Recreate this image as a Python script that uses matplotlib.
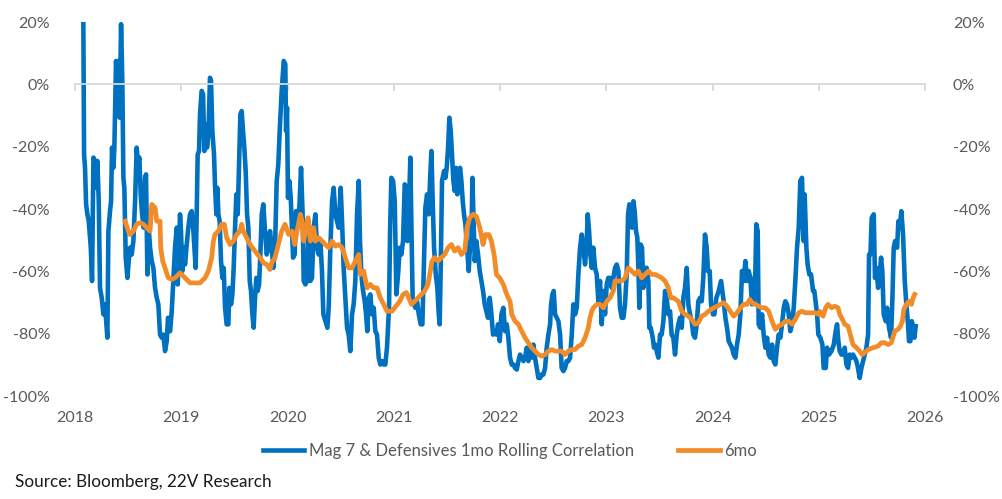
import numpy as np
import matplotlib
matplotlib.use("Agg")
import matplotlib.pyplot as plt
from matplotlib.ticker import FuncFormatter

plt.rcParams['font.family'] = ['Lato', 'DejaVu Sans']

# 1mo rolling correlation (decimal year, %)
t_1mo = [
    2018.078, 2018.085, 2018.094, 2018.104, 2018.116, 2018.129, 2018.148, 2018.160, 2018.173, 2018.188,
    2018.198, 2018.210, 2018.223, 2018.235, 2018.251, 2018.267, 2018.282, 2018.304, 2018.314, 2018.329,
    2018.339, 2018.348, 2018.361, 2018.370, 2018.386, 2018.398, 2018.411, 2018.420, 2018.433, 2018.445,
    2018.455, 2018.464, 2018.477, 2018.493, 2018.505, 2018.518, 2018.533, 2018.549, 2018.565, 2018.580,
    2018.593, 2018.605, 2018.618, 2018.631, 2018.646, 2018.659, 2018.668, 2018.681, 2018.693, 2018.706,
    2018.722, 2018.737, 2018.753, 2018.769, 2018.784, 2018.800, 2018.816, 2018.831, 2018.847, 2018.863,
    2018.875, 2018.894, 2018.910, 2018.925,
    2018.941, 2018.957, 2018.966, 2018.979, 2018.988, 2018.997, 2019.010, 2019.023, 2019.035, 2019.051,
    2019.066, 2019.082, 2019.098, 2019.114, 2019.123, 2019.135, 2019.145, 2019.154, 2019.167, 2019.176,
    2019.192, 2019.205, 2019.217, 2019.230, 2019.242, 2019.255, 2019.270, 2019.280, 2019.292, 2019.308,
    2019.317, 2019.330, 2019.339, 2019.349, 2019.361, 2019.374, 2019.386, 2019.399, 2019.412, 2019.427,
    2019.443, 2019.452, 2019.468, 2019.481, 2019.493, 2019.506, 2019.518, 2019.531, 2019.543, 2019.556,
    2019.568, 2019.581, 2019.593, 2019.606, 2019.619, 2019.631, 2019.644, 2019.656, 2019.669, 2019.681,
    2019.694, 2019.706, 2019.719, 2019.732, 2019.744, 2019.757, 2019.772, 2019.788, 2019.804, 2019.819,
    2019.835, 2019.851, 2019.866, 2019.882, 2019.898, 2019.913, 2019.929, 2019.945,
    2019.964, 2019.979, 2019.986, 2019.995, 2020.004, 2020.017, 2020.030, 2020.042, 2020.052, 2020.067,
    2020.080, 2020.095, 2020.111, 2020.127, 2020.142, 2020.152, 2020.168, 2020.183, 2020.199, 2020.215,
    2020.230, 2020.246, 2020.262, 2020.277, 2020.293, 2020.309, 2020.324, 2020.337, 2020.356, 2020.375,
    2020.387, 2020.403, 2020.419, 2020.434, 2020.450, 2020.466, 2020.481, 2020.500, 2020.513, 2020.528,
    2020.544, 2020.560, 2020.575, 2020.591, 2020.607, 2020.622, 2020.638, 2020.654, 2020.670, 2020.682,
    2020.695, 2020.707, 2020.726, 2020.739, 2020.751, 2020.764, 2020.779, 2020.795, 2020.811, 2020.826,
    2020.842, 2020.858, 2020.873, 2020.889, 2020.905, 2020.920, 2020.936,
    2020.955, 2020.965, 2020.977, 2020.993, 2021.009, 2021.024, 2021.040, 2021.056, 2021.071, 2021.087,
    2021.103, 2021.119, 2021.128, 2021.140, 2021.156, 2021.166, 2021.178, 2021.191, 2021.203, 2021.219,
    2021.235, 2021.253, 2021.269, 2021.282, 2021.297, 2021.313, 2021.329, 2021.341, 2021.354, 2021.366,
    2021.379, 2021.395, 2021.410, 2021.423, 2021.432, 2021.442, 2021.454, 2021.473, 2021.486, 2021.498,
    2021.511, 2021.523, 2021.536, 2021.548, 2021.561, 2021.573, 2021.586, 2021.598, 2021.611, 2021.624,
    2021.636, 2021.649, 2021.661, 2021.674, 2021.689, 2021.705, 2021.718, 2021.730, 2021.740, 2021.749,
    2021.762, 2021.777, 2021.793, 2021.809, 2021.824, 2021.840, 2021.856, 2021.871, 2021.887, 2021.903,
    2021.919, 2021.934, 2021.950, 2021.966, 2021.981, 2021.997, 2022.013,
    2022.031, 2022.047, 2022.063, 2022.078, 2022.094, 2022.110, 2022.126, 2022.141, 2022.157, 2022.173,
    2022.188, 2022.204, 2022.220, 2022.235, 2022.251, 2022.267, 2022.282, 2022.298, 2022.314, 2022.329,
    2022.345, 2022.361, 2022.377, 2022.392, 2022.408, 2022.424, 2022.439, 2022.455, 2022.471, 2022.480,
    2022.493, 2022.505, 2022.518, 2022.533, 2022.549, 2022.565, 2022.580, 2022.596, 2022.612, 2022.627,
    2022.643, 2022.659, 2022.675, 2022.690, 2022.706, 2022.722, 2022.737, 2022.753, 2022.769, 2022.784,
    2022.800, 2022.816, 2022.825, 2022.838, 2022.850, 2022.863, 2022.878, 2022.894, 2022.910, 2022.925,
    2022.941, 2022.957, 2022.972, 2022.988, 2023.004, 2023.019, 2023.035, 2023.051, 2023.066, 2023.082,
    2023.098, 2023.114, 2023.129, 2023.145, 2023.161, 2023.176, 2023.192, 2023.205, 2023.217, 2023.230,
    2023.242, 2023.255, 2023.267, 2023.280, 2023.292, 2023.302, 2023.311, 2023.324, 2023.336, 2023.349,
    2023.364, 2023.380, 2023.396, 2023.405, 2023.418, 2023.437, 2023.449, 2023.462, 2023.474, 2023.490,
    2023.506, 2023.521, 2023.537, 2023.553, 2023.568, 2023.584, 2023.600, 2023.615, 2023.631, 2023.647,
    2023.663, 2023.678, 2023.694, 2023.710, 2023.725, 2023.741, 2023.757, 2023.772, 2023.788, 2023.804,
    2023.819, 2023.835, 2023.851, 2023.866, 2023.882, 2023.898, 2023.913, 2023.929, 2023.945,
    2023.957, 2023.973, 2023.986, 2024.004, 2024.017, 2024.036, 2024.058, 2024.080, 2024.092, 2024.105,
    2024.121, 2024.136, 2024.152, 2024.168, 2024.183, 2024.199, 2024.215, 2024.230, 2024.246, 2024.262,
    2024.277, 2024.293, 2024.309, 2024.324, 2024.340, 2024.356, 2024.371, 2024.387, 2024.403, 2024.412,
    2024.425, 2024.434, 2024.450, 2024.466, 2024.481, 2024.497, 2024.513, 2024.528, 2024.544, 2024.560,
    2024.575, 2024.591, 2024.607, 2024.622, 2024.638, 2024.654, 2024.670, 2024.685, 2024.701, 2024.717,
    2024.732, 2024.748, 2024.764, 2024.779, 2024.795, 2024.811, 2024.826, 2024.842, 2024.858, 2024.867,
    2024.883, 2024.895, 2024.911, 2024.927, 2024.946, 2024.958,
    2024.984, 2024.996, 2025.015, 2025.034, 2025.046, 2025.065, 2025.078, 2025.097, 2025.119, 2025.141,
    2025.159, 2025.172, 2025.184, 2025.197, 2025.213, 2025.228, 2025.244, 2025.260, 2025.275, 2025.291,
    2025.307, 2025.322, 2025.338, 2025.354, 2025.369, 2025.385, 2025.401, 2025.417, 2025.432, 2025.448,
    2025.464, 2025.473, 2025.486, 2025.498, 2025.517, 2025.529, 2025.542, 2025.558, 2025.573, 2025.586,
    2025.598, 2025.611, 2025.630, 2025.642, 2025.661, 2025.680, 2025.693, 2025.705, 2025.718, 2025.737,
    2025.749, 2025.762, 2025.777, 2025.793, 2025.809, 2025.824, 2025.840, 2025.849, 2025.862, 2025.875,
    2025.887, 2025.900, 2025.912,
]
corr_1mo = [
    20.0, -22.5, -26.8, -38.5, -41.7, -43.9, -52.4, -63.1, -23.5, -24.6,
    -33.2, -24.6, -37.5, -65.3, -68.5, -73.8, -70.6, -81.3, -47.1, -40.7,
    -37.5, -20.3, -26.8, -20.3, 7.5, -2.1, 7.5, -10.7, 19.3, 1.1,
    -30.0, -33.2, -55.6, -62.1, -56.7, -52.4, -54.6, -50.3, -37.5, -20.3,
    -25.7, -23.5, -35.3, -41.7, -46.0, -30.0, -28.9, -61.0, -46.0, -52.4,
    -56.7, -58.9, -65.3, -68.5, -70.6, -80.3, -81.3, -80.3, -85.6, -82.4,
    -74.9, -79.2, -72.8, -63.1,
    -52.4, -46.0, -64.2, -52.4, -41.7, -47.1, -59.9, -52.4, -57.8, -51.4,
    -46.0, -41.7, -40.7, -47.1, -52.4, -58.9, -41.7, -22.5, -21.4, -9.6,
    -2.1, -3.2, -21.4, -12.8, -20.3, -16.1, 2.1, 1.1, -15.0, -22.5,
    -32.1, -41.7, -33.2, -41.7, -43.9, -56.7, -62.1, -58.9, -71.7, -77.0,
    -77.0, -65.3, -70.6, -67.4, -58.9, -46.0, -35.3, -41.7, -25.7, -9.6,
    -8.6, -15.0, -20.3, -27.8, -41.7, -46.0, -63.1, -66.3, -73.8, -78.1,
    -68.5, -62.1, -66.3, -64.2, -54.6, -41.7, -38.5, -47.1, -54.6, -52.4,
    -47.1, -52.4, -58.9, -52.4, -31.0, -25.7, -12.8, -2.1,
    7.5, 6.4, -15.0, -7.5, -36.4, -31.0, -36.4, -47.1, -55.6, -54.6,
    -40.7, -41.7, -39.6, -26.8, -41.7, -63.1, -64.2, -63.1, -43.9, -63.1,
    -62.1, -46.0, -41.7, -52.4, -54.6, -50.3, -59.9, -73.8, -76.0, -78.1,
    -71.7, -52.4, -37.5, -33.2, -41.7, -43.9, -46.0, -33.2, -43.9, -58.9,
    -68.5, -78.1, -80.3, -85.6, -73.8, -70.6, -63.1, -41.7, -31.0, -50.3,
    -61.0, -65.3, -69.6, -73.8, -79.2, -68.5, -67.4, -73.8, -71.7, -79.2,
    -80.3, -87.7, -89.9, -88.8, -89.9, -89.9, -84.5,
    -71.7, -47.1, -30.0, -31.0, -37.5, -67.4, -61.0, -52.4, -54.6, -50.3,
    -32.1, -33.2, -50.3, -41.7, -23.5, -46.0, -69.6, -70.6, -71.7, -69.6,
    -73.8, -77.0, -77.0, -59.9, -39.6, -35.3, -41.7, -31.0, -21.4, -37.5,
    -52.4, -61.0, -65.3, -73.8, -77.0, -57.8, -31.0, -27.8, -30.0, -26.8,
    -20.3, -10.7, -15.0, -22.5, -31.0, -34.2, -26.8, -35.3, -28.9, -26.8,
    -31.0, -37.5, -41.7, -44.9, -52.4, -59.9, -51.4, -50.3, -30.0, -41.7,
    -56.7, -50.3, -54.6, -59.9, -63.1, -66.3, -70.6, -72.8, -74.9, -68.5,
    -73.8, -80.3, -79.2, -80.3, -77.0, -82.4, -73.8,
    -71.7, -79.2, -77.0, -81.3, -87.7, -89.9, -89.9, -91.0, -91.5, -88.8,
    -86.7, -87.7, -88.8, -87.7, -84.5, -88.8, -84.5, -87.7, -83.5, -87.7,
    -91.0, -94.2, -94.2, -93.1, -93.1, -91.0, -84.5, -80.3, -77.0, -70.6,
    -67.4, -66.3, -73.8, -74.9, -76.0, -80.3, -91.0, -92.0, -91.0, -88.8,
    -88.8, -87.7, -80.3, -70.6, -73.8, -71.7, -61.0, -52.4, -48.2, -52.4,
    -57.8, -50.3, -41.7, -47.1, -54.6, -58.9, -52.4, -58.9, -61.0, -69.6,
    -63.1, -77.0, -66.3, -73.8, -64.2, -62.1, -62.1, -65.3, -62.1, -58.9,
    -57.8, -59.9, -71.7, -74.9, -74.9, -70.6, -61.0, -41.7, -38.5, -40.7,
    -46.0, -37.5, -40.7, -47.1, -49.2, -58.9, -71.7, -51.4, -52.4, -65.3,
    -58.9, -58.9, -63.1, -78.1, -78.1, -81.3, -84.5, -83.5, -85.6, -87.7,
    -80.3, -80.3, -76.0, -66.3, -68.5, -73.8, -72.8, -80.3, -81.3, -86.7,
    -80.3, -77.0, -74.9, -78.1, -68.5, -65.3, -58.9, -70.6, -73.8, -76.0,
    -80.3, -81.3, -77.0, -69.6, -68.5, -69.6, -62.1, -48.2, -52.4,
    -59.9, -59.9, -70.6, -73.8, -73.8, -68.5, -66.3, -63.1, -66.3, -69.6,
    -74.9, -78.1, -82.4, -83.5, -84.5, -86.7, -87.7, -83.5, -80.3, -73.8,
    -59.9, -63.1, -56.7, -63.1, -59.9, -62.1, -70.6, -69.6, -59.9, -44.9,
    -47.1, -77.0, -78.1, -73.8, -80.3, -84.5, -81.3, -86.7, -87.7, -83.5,
    -88.8, -89.9, -84.5, -80.3, -81.3, -77.0, -71.7, -69.6, -70.6, -73.8,
    -79.2, -77.0, -71.7, -63.1, -52.4, -46.0, -31.0, -30.0, -50.3, -35.3,
    -52.4, -57.8, -61.0, -61.0, -66.3, -66.3,
    -73.8, -80.3, -81.3, -83.5, -91.0, -91.0, -84.5, -86.7, -85.6, -83.5,
    -79.2, -77.0, -82.4, -85.6, -86.7, -86.7, -84.5, -89.9, -91.0, -86.7,
    -87.7, -86.7, -87.7, -88.8, -91.0, -94.2, -91.0, -88.8, -86.7, -84.5,
    -80.3, -54.6, -54.6, -42.8, -41.7, -62.1, -58.9, -65.3, -61.0, -55.6,
    -59.9, -73.8, -76.0, -71.7, -78.1, -81.3, -68.5, -52.4, -50.3, -52.4,
    -43.9, -46.0, -40.7, -48.2, -63.1, -70.6, -77.0, -82.4, -82.4, -76.0,
    -78.1, -81.3, -77.6,
]

# 6mo rolling correlation (decimal year, %)
t_6mo = [
    2018.471, 2018.502, 2018.518, 2018.549, 2018.580, 2018.612, 2018.643, 2018.675, 2018.706, 2018.722,
    2018.753, 2018.769, 2018.800, 2018.806, 2018.825, 2018.847, 2018.878, 2018.910,
    2018.941, 2018.988, 2019.035, 2019.082, 2019.129, 2019.176, 2019.223, 2019.255, 2019.286, 2019.302,
    2019.317, 2019.349, 2019.380, 2019.405, 2019.427, 2019.459, 2019.490, 2019.521, 2019.553, 2019.568,
    2019.584, 2019.615, 2019.647, 2019.694, 2019.741, 2019.772, 2019.804, 2019.835, 2019.851, 2019.882,
    2019.913, 2019.945, 2019.976,
    2020.011, 2020.042, 2020.067, 2020.089, 2020.121, 2020.136, 2020.152, 2020.174, 2020.193, 2020.215,
    2020.246, 2020.262, 2020.293, 2020.324, 2020.356, 2020.387, 2020.419, 2020.450, 2020.481, 2020.513,
    2020.544, 2020.575, 2020.607, 2020.638, 2020.670, 2020.685, 2020.717, 2020.748, 2020.779, 2020.811,
    2020.842, 2020.873, 2020.905, 2020.936, 2020.983,
    2021.056, 2021.087, 2021.119, 2021.140, 2021.166, 2021.197, 2021.228, 2021.260, 2021.291, 2021.322,
    2021.338, 2021.360, 2021.385, 2021.416, 2021.448, 2021.479, 2021.511, 2021.542, 2021.573, 2021.605,
    2021.636, 2021.668, 2021.689, 2021.715, 2021.746, 2021.777, 2021.809, 2021.840, 2021.862, 2021.894,
    2021.919, 2021.944, 2021.966, 2021.997,
    2022.031, 2022.063, 2022.094, 2022.110, 2022.141, 2022.173, 2022.204, 2022.235, 2022.267, 2022.298,
    2022.329, 2022.361, 2022.392, 2022.424, 2022.455, 2022.486, 2022.518, 2022.549, 2022.580, 2022.612,
    2022.643, 2022.675, 2022.706, 2022.737, 2022.769, 2022.800, 2022.831, 2022.847, 2022.863, 2022.878,
    2022.910, 2022.941, 2022.973, 2023.004,
    2023.035, 2023.066, 2023.082, 2023.114, 2023.145, 2023.176, 2023.208, 2023.239, 2023.270, 2023.302,
    2023.333, 2023.364, 2023.396, 2023.427, 2023.459, 2023.490, 2023.521, 2023.553, 2023.584, 2023.606,
    2023.631, 2023.678, 2023.710, 2023.741, 2023.772, 2023.804, 2023.835, 2023.866, 2023.898, 2023.929,
    2023.961,
    2024.011, 2024.042, 2024.073, 2024.105, 2024.136, 2024.168, 2024.199, 2024.230, 2024.262, 2024.293,
    2024.324, 2024.350, 2024.371, 2024.403, 2024.434, 2024.466, 2024.497, 2024.528, 2024.560, 2024.591,
    2024.622, 2024.654, 2024.685, 2024.717, 2024.748, 2024.779, 2024.811, 2024.842, 2024.873, 2024.905,
    2024.936, 2024.967, 2024.999,
    2025.009, 2025.040, 2025.065, 2025.087, 2025.119, 2025.150, 2025.181, 2025.197, 2025.222, 2025.244,
    2025.275, 2025.297, 2025.322, 2025.354, 2025.385, 2025.410, 2025.432, 2025.464, 2025.511, 2025.558,
    2025.589, 2025.621, 2025.652, 2025.683, 2025.715, 2025.746, 2025.768, 2025.787, 2025.799, 2025.824,
    2025.850, 2025.872, 2025.887, 2025.903,
]
corr_6mo = [
    -43.9, -47.1, -48.2, -47.1, -44.9, -44.4, -44.9, -46.0, -47.1, -38.5,
    -39.6, -43.9, -43.9, -52.4, -56.7, -58.9, -62.1, -62.6,
    -62.1, -60.5, -62.1, -63.7, -63.7, -63.7, -62.1, -59.9, -55.6, -50.3,
    -48.2, -47.1, -44.9, -44.9, -49.2, -51.4, -50.3, -48.2, -47.1, -44.9,
    -47.1, -49.2, -51.4, -53.5, -55.6, -57.2, -57.8, -59.4, -57.2, -55.6,
    -51.4, -47.1, -44.9,
    -48.2, -47.1, -51.4, -47.1, -41.7, -43.9, -50.3, -46.0, -42.8, -50.3,
    -46.0, -50.3, -49.2, -50.3, -51.4, -52.4, -50.3, -51.9, -51.4, -52.4,
    -55.6, -58.9, -58.9, -56.7, -54.6, -61.0, -59.9, -65.3, -64.2, -65.3,
    -65.3, -68.5, -70.6, -72.8, -72.8,
    -69.6, -67.4, -66.8, -68.5, -70.6, -69.6, -68.5, -67.4, -66.3, -64.2,
    -61.0, -56.7, -55.6, -56.7, -55.6, -54.6, -52.4, -51.4, -53.5, -52.4,
    -54.6, -53.5, -46.0, -42.8, -41.7, -42.3, -46.0, -51.4, -48.2, -48.2,
    -50.3, -54.6, -61.0, -62.1,
    -64.2, -67.4, -69.6, -73.8, -76.0, -77.0, -79.2, -81.3, -82.9, -84.5,
    -85.6, -86.7, -87.2, -86.7, -85.6, -85.1, -85.6, -85.6, -85.6, -86.7,
    -85.6, -85.1, -85.1, -84.0, -83.5, -81.3, -78.1, -74.9, -72.8, -71.7,
    -70.6, -70.6, -71.7, -69.6,
    -68.5, -66.3, -63.1, -63.1, -63.1, -62.1, -58.9, -59.9, -61.0, -59.9,
    -62.1, -61.0, -59.9, -61.0, -61.0, -61.5, -62.1, -63.1, -65.3, -68.5,
    -68.5, -69.6, -72.8, -73.8, -74.4, -75.4, -77.0, -76.5, -74.4, -73.8,
    -72.8,
    -71.7, -71.2, -70.6, -70.1, -71.2, -72.8, -74.4, -73.3, -71.7, -70.6,
    -70.6, -69.0, -70.1, -70.6, -71.2, -71.7, -71.7, -72.8, -76.0, -78.6,
    -77.6, -77.0, -76.0, -76.0, -77.0, -75.4, -73.3, -72.8, -73.3, -73.3,
    -73.3, -73.3, -73.8,
    -72.8, -74.4, -71.7, -70.6, -71.7, -71.2, -71.7, -73.8, -75.4, -77.0,
    -77.6, -80.3, -83.5, -84.5, -85.6, -86.7, -86.1, -85.1, -84.5, -84.0,
    -82.9, -82.9, -83.5, -82.9, -79.2, -78.6, -77.6, -76.0, -72.3, -70.6,
    -69.6, -70.6, -68.5, -67.4,
]

years = list(range(2018, 2027))
y_ticks = [20, 0, -20, -40, -60, -80, -100]

blue = '#0070C0'
orange = '#F28C28'
grey_txt = '#595959'
axis_grey = '#D9D9D9'

fig = plt.figure(figsize=(10.02, 4.99), dpi=100)
ax = fig.add_axes([0.0749, 0.2064, 0.8483, 0.7495])

l1, = ax.plot(t_1mo, corr_1mo, color=blue, lw=3.3, solid_joinstyle='round')
l2, = ax.plot(t_6mo, corr_6mo, color=orange, lw=3.4, solid_joinstyle='round')

ax.set_xlim(2018, 2026)
ax.set_ylim(-100, 20)

# horizontal axis crosses at 0%
for s in ['top', 'left', 'right']:
    ax.spines[s].set_visible(False)
ax.spines['bottom'].set_position(('data', 0))
ax.spines['bottom'].set_color(axis_grey)
ax.spines['bottom'].set_linewidth(1.3)
ax.set_xticks(years)
ax.tick_params(axis='x', direction='out', length=5, width=1.3, color=axis_grey, labelbottom=False)

# year labels at the bottom
sx = ax.secondary_xaxis('bottom')
sx.set_xticks(years)
sx.set_xticklabels([str(y) for y in years])
sx.tick_params(length=0, pad=11, labelsize=11.5, labelcolor=grey_txt)
sx.spines['bottom'].set_visible(False)

pct = FuncFormatter(lambda v, p: f'{v:.0f}%')
ax.set_yticks(y_ticks)
ax.yaxis.set_major_formatter(pct)
ax.tick_params(axis='y', length=0, pad=18, labelsize=11.5, labelcolor=grey_txt)

sy = ax.secondary_yaxis('right')
sy.set_yticks(y_ticks)
sy.yaxis.set_major_formatter(pct)
sy.tick_params(length=0, pad=20, labelsize=11.5, labelcolor=grey_txt)
sy.spines['right'].set_visible(False)

fig.legend([l1, l2], ['Mag 7 & Defensives 1mo Rolling Correlation', '6mo'],
           loc='center', bbox_to_anchor=(0.509, 0.096), ncol=2, frameon=False,
           fontsize=12, labelcolor=grey_txt, handlelength=2.5, handletextpad=0.3,
           columnspacing=2.6)

fig.text(0.015, 0.034, 'Source: Bloomberg, 22V Research', fontsize=12.3, color='#1a1a1a',
         ha='left', va='center')

fig.savefig('out.png', dpi=100)
